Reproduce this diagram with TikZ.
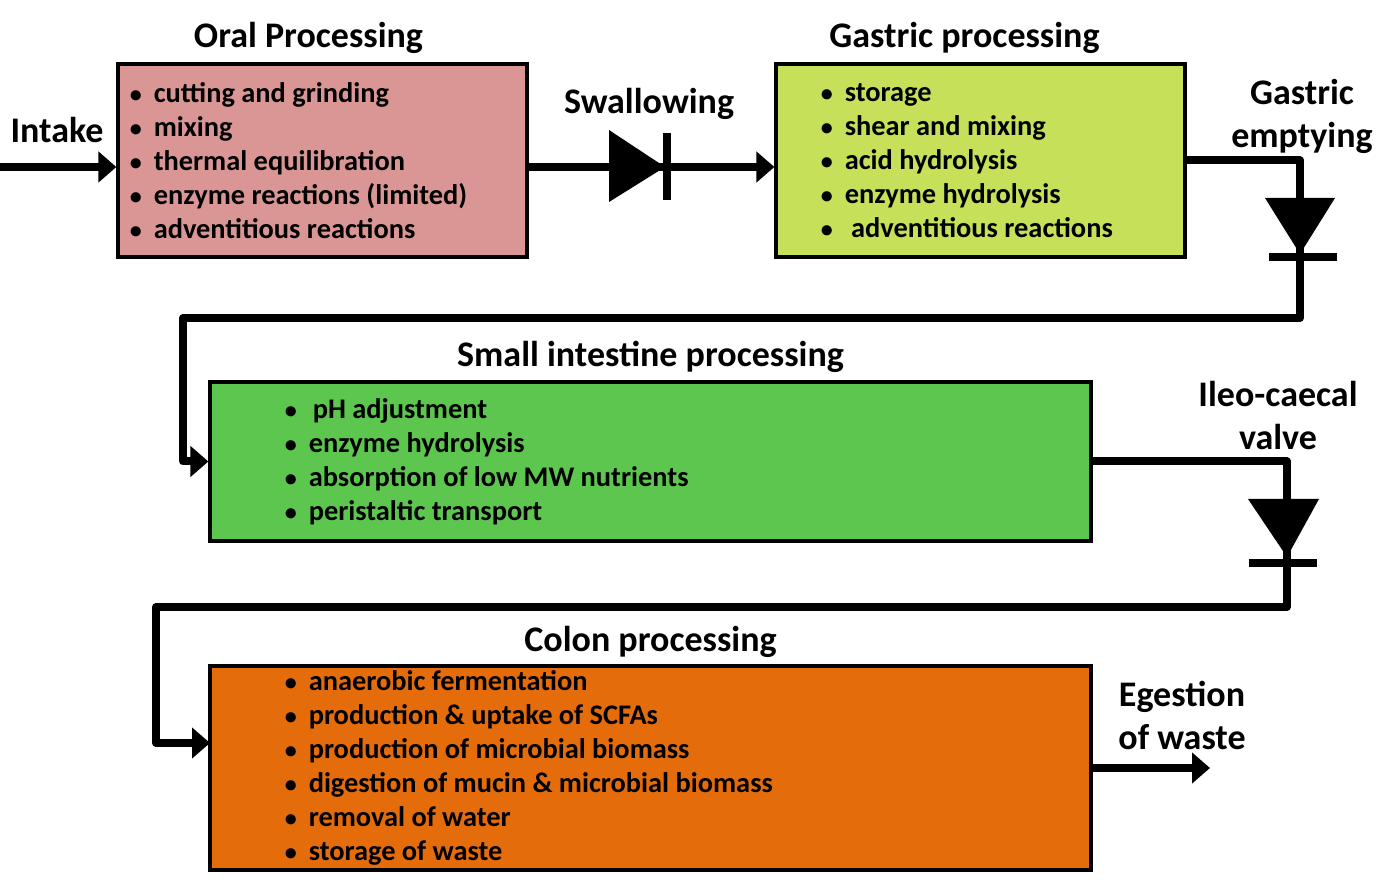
\documentclass[tikz,border=0pt]{standalone}
\usepackage{fontspec}
\setmainfont{Carlito}
\usetikzlibrary{arrows.meta,positioning}
\definecolor{oralc}{HTML}{D99694}
\definecolor{gastricc}{HTML}{C6E05A}
\definecolor{smallc}{HTML}{5CC64E}
\definecolor{colonc}{HTML}{E46C0A}
\newcommand{\itm}{{\fontsize{12}{12}\selectfont\textbullet}\hspace{6pt}}

\begin{document}
\begin{tikzpicture}[
    x=0.5pt, y=-0.5pt,
    box/.style={draw, line width=1.6pt, inner sep=0pt},
    list/.style={align=left, inner sep=0pt, font=\fontsize{14.2}{17}\selectfont\bfseries},
    title/.style={align=center, inner sep=0pt, font=\fontsize{18}{21.5}\selectfont\bfseries},
    wire/.style={line width=4pt, line join=round},
    flow/.style={wire, -{Triangle[length=9pt, width=15pt]}},
    node distance=8pt
]
\useasboundingbox (0,0) rectangle (1382,887);

% boxes
\node[box, fill=oralc, minimum width=204.5pt, minimum height=96.5pt] (oral) at (322.5,160.5) {};
\node[box, fill=gastricc, minimum width=204.5pt, minimum height=96.5pt] (gastric) at (980.5,160.5) {};
\node[box, fill=smallc, minimum width=440.5pt, minimum height=79.5pt] (small) at (650.5,461.5) {};
\node[box, fill=colonc, minimum width=440.5pt, minimum height=102pt] (colon) at (650.5,768) {};

% lists
\node[list, right=6.5pt of oral.west] (oraltxt) {\itm cutting and grinding\\ \itm mixing\\ \itm thermal equilibration\\ \itm enzyme reactions (limited)\\ \itm adventitious reactions};
\node[list, right=23pt of gastric.west] (gastrictxt) {\itm storage\\ \itm shear and mixing\\ \itm acid hydrolysis\\ \itm enzyme hydrolysis\\ \itm\ adventitious reactions};
\node[list, right=38pt of small.west] (smalltxt) {\itm\hspace{2pt}pH adjustment\\ \itm enzyme hydrolysis\\ \itm absorption of low MW nutrients\\ \itm peristaltic transport};
\node[list, right=38pt of colon.west] (colontxt) {\itm anaerobic fermentation\\ \itm production \& uptake of SCFAs\\ \itm production of microbial biomass\\ \itm digestion of mucin \& microbial biomass\\ \itm removal of water\\ \itm storage of waste};

% titles
\node[title, above=4pt of oral, xshift=-7pt] (oraltitle) {Oral Processing};
\node[title, above=4pt of gastric, xshift=-8pt] (gastrictitle) {Gastric processing};
\node[title, above=3.5pt of small] (smalltitle) {Small intestine processing};
\node[title, above=3pt of colon] (colontitle) {Colon processing};
\node[title] (intake) at (57,130) {Intake};
\node[title] (swallow) at (649,104) {Swallowing};
\node[title] (empty) at (1302,116) {Gastric\\ emptying};
\node[title] (ileo) at (1278,416) {Ileo-caecal\\ valve};
\node[title] (egest) at (1182,715) {Egestion\\ of waste};

% connectors
\coordinate (in) at (0,167);
\coordinate (c1) at (1300,318);
\coordinate (c2) at (183,318);
\coordinate (c3) at (1287,607);
\coordinate (c4) at (156,607);
\coordinate (cin) at (210,743);
\coordinate (out) at (1210,768);
\draw[flow] (in) -- (in -| oral.west);
\draw[flow] (oral.east |- in) -- (gastric.west |- in);
\draw[flow] (gastric.east) -| (c1) -- (c2) |- (small.west);
\draw[flow] (small.east) -| (c3) -- (c4) |- (cin);
\draw[flow] (colon.east) -- (out);

% valves
\fill (609,130) -- (609,202) -- (665,167) -- cycle;
\draw[wire] (667,133) -- (667,200);
\fill (1265,198) -- (1335,198) -- (1300,254) -- cycle;
\draw[wire] (1269,257) -- (1337,257);
\fill (1248,499) -- (1319,499) -- (1287,557) -- cycle;
\draw[wire] (1249,563) -- (1317,563);
\end{tikzpicture}
\end{document}
